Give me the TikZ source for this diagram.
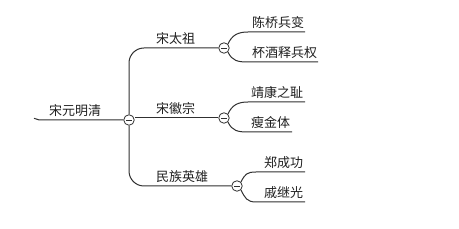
\documentclass[tikz,border=0pt]{standalone}
\usepackage{fontspec}
\newfontfamily\cjk{Noto Sans CJK SC}
\definecolor{linec}{HTML}{303030}
\definecolor{textc}{HTML}{202020}
\begin{document}
\begin{tikzpicture}[x=1pt,y=-1pt,
  line/.style={draw=linec, line width=1pt},
  lbl/.style={font=\cjk\fontsize{13}{15}\selectfont, text=textc, inner sep=0pt, anchor=base west},
  fold/.style={circle, draw=linec, fill=white, line width=0.8pt, minimum size=10.5pt, inner sep=0pt,
    path picture={\draw[linec, line width=0.8pt] ([xshift=-2.6pt]path picture bounding box.center) -- ([xshift=2.6pt]path picture bounding box.center);}},
]
\useasboundingbox (0,0) rectangle (459,229);
% fold circles
\node[fold] (c0) at (129,120) {};
\node[fold] (c1) at (224,48) {};
\node[fold] (c2) at (224,118) {};
\node[fold] (c3) at (237,186) {};
% root
\coordinate (r0) at (34,118.3);
\coordinate (r1) at (47,120);
\draw[line] (r0) .. controls (38,120) .. (r1) -- (c0.west);
\node[lbl] (t0) at (49,115.5) {宋元明清};
% trunk
\draw[line, rounded corners=15pt] (c0.north) |- (c1.west);
\draw[line, rounded corners=15pt] (c0.south) |- (c3.west);
\draw[line] (c2.west) -- (c2.west -| c0.east);
\node[lbl] (t1) at (156,43.5) {宋太祖};
\node[lbl] (t2) at (156,113.5) {宋徽宗};
\node[lbl] (t3) at (156,181.5) {民族英雄};
% children of c1
\coordinate (k11s) at (248,32); \coordinate (k11e) at (305,32);
\coordinate (k12s) at (248,62); \coordinate (k12e) at (318,62);
\draw[line] (c1.north east) .. controls +(4,-9) and +(-10,0) .. (k11s) -- (k11e);
\draw[line] (c1.south east) .. controls +(4,9) and +(-10,0) .. (k12s) -- (k12e);
\node[lbl] (t11) at (252,27.5) {陈桥兵变};
\node[lbl] (t12) at (252,57.5) {杯酒释兵权};
% children of c2
\coordinate (k21s) at (248,102); \coordinate (k21e) at (305,102);
\coordinate (k22s) at (248,132); \coordinate (k22e) at (292,132);
\draw[line] (c2.north east) .. controls +(4,-9) and +(-10,0) .. (k21s) -- (k21e);
\draw[line] (c2.south east) .. controls +(4,9) and +(-10,0) .. (k22s) -- (k22e);
\node[lbl] (t21) at (251,97.5) {靖康之耻};
\node[lbl] (t22) at (251,127.5) {瘦金体};
% children of c3
\coordinate (k31s) at (256,172); \coordinate (k31e) at (305,172);
\coordinate (k32s) at (256,202); \coordinate (k32e) at (305,202);
\draw[line] (c3.north east) .. controls +(4,-8) and +(-9,0) .. (k31s) -- (k31e);
\draw[line] (c3.south east) .. controls +(4,8) and +(-9,0) .. (k32s) -- (k32e);
\node[lbl] (t31) at (264,167.5) {郑成功};
\node[lbl] (t32) at (264,197.5) {戚继光};
\end{tikzpicture}
\end{document}
